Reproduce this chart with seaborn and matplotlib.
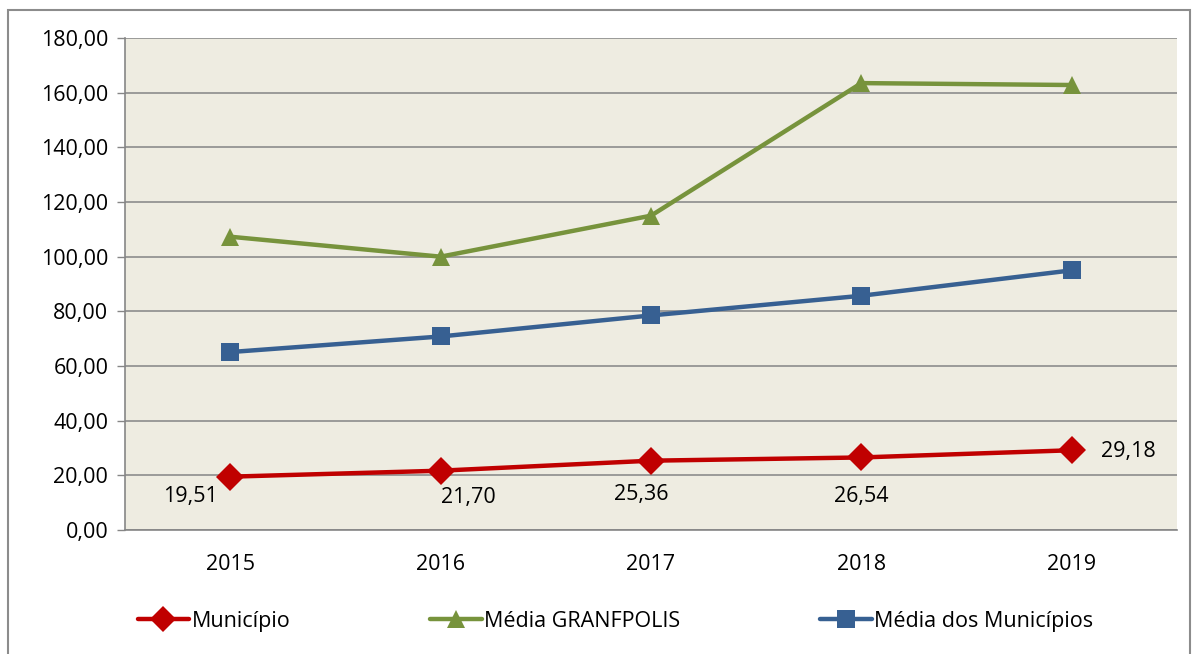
import matplotlib
matplotlib.use("Agg")
import matplotlib.pyplot as plt
import matplotlib.patches as mpatches
import seaborn as sns
import pandas as pd

anos = ["2015", "2016", "2017", "2018", "2019"]
municipio = [19.51, 21.70, 25.36, 26.54, 29.18]
media_granfpolis = [107.3, 100.0, 115.0, 163.5, 162.8]
media_municipios = [65.1, 70.8, 78.5, 85.7, 95.0]

series = ["Município", "Média GRANFPOLIS", "Média dos Municípios"]
cores = ["#C00000", "#77933C", "#376092"]
marcadores = ["D", "^", "s"]

df = pd.DataFrame({
    "pos": list(range(len(anos))) * 3,
    "valor": municipio + media_granfpolis + media_municipios,
    "serie": [s for s in series for _ in anos],
})

sns.set_style("white")
plt.rcParams["font.family"] = ["Open Sans", "DejaVu Sans"]
plt.rcParams["text.color"] = "black"
plt.rcParams["xtick.color"] = "black"
plt.rcParams["ytick.color"] = "black"

fs = 15.5

fig = plt.figure(figsize=(11.95, 6.54), dpi=100)
ax = fig.add_axes([125 / 1195, 1 - 530 / 654, (1177 - 125) / 1195, (530 - 38) / 654])

sns.lineplot(data=df, x="pos", y="valor", hue="serie", style="serie",
             hue_order=series, style_order=series, palette=cores,
             markers=dict(zip(series, marcadores)), dashes=False,
             linewidth=3.2, markersize=13, markeredgewidth=0, ax=ax)
# losango um pouco maior, como no original
ax.lines[0].set_markersize(14)

ax.set_facecolor("#EEECE1")
ax.set_xlim(-0.5, 4.5)
ax.set_ylim(0, 180)
ax.set_yticks(range(0, 181, 20))
ax.set_yticklabels([f"{v},00" for v in range(0, 181, 20)], fontsize=fs)
ax.set_xticks(range(len(anos)))
ax.set_xticklabels(anos, fontsize=fs)
ax.set_xticks([i - 0.5 for i in range(len(anos) + 1)], minor=True)
ax.tick_params(axis="x", which="major", length=0, pad=17)
ax.tick_params(axis="x", which="minor", length=6, color="#868686", width=1)
ax.tick_params(axis="y", length=6, color="#868686", width=1, left=True, labelcolor="black", pad=6)
ax.tick_params(axis="x", labelcolor="black")
ax.set_xlabel("")
ax.set_ylabel("")
ax.grid(axis="y", color="#8C8C8C", linewidth=1.2)
ax.set_axisbelow(True)
for s in ["top", "right"]:
    ax.spines[s].set_visible(False)
for s in ["left", "bottom"]:
    ax.spines[s].set_color("#868686")
    ax.spines[s].set_linewidth(1.2)

# rótulos da série do município
deslocamentos = [(-29, -14), (20, -19), (-7, -24), (0, -28), (41, -1)]
for i, (v, d) in enumerate(zip(municipio, deslocamentos)):
    ax.annotate(f"{v:.2f}".replace(".", ","), (i, v), xytext=d,
                textcoords="offset points", ha="center", va="center", fontsize=fs)

handles, labels = ax.get_legend_handles_labels()
ax.legend(handles, labels, loc="upper center", bbox_to_anchor=(0.466, -0.125),
          ncol=3, frameon=False, fontsize=fs, handlelength=2.4,
          handletextpad=0.1, columnspacing=6.5)

# borda externa do gráfico
fig.patches.append(mpatches.Rectangle((8 / 1195, -0.01), (1190 - 8) / 1195, 1 - 10 / 654 + 0.01,
                                      transform=fig.transFigure, fill=False,
                                      edgecolor="#8C8C8C", linewidth=1.5))

fig.savefig("out.png", dpi=100)
